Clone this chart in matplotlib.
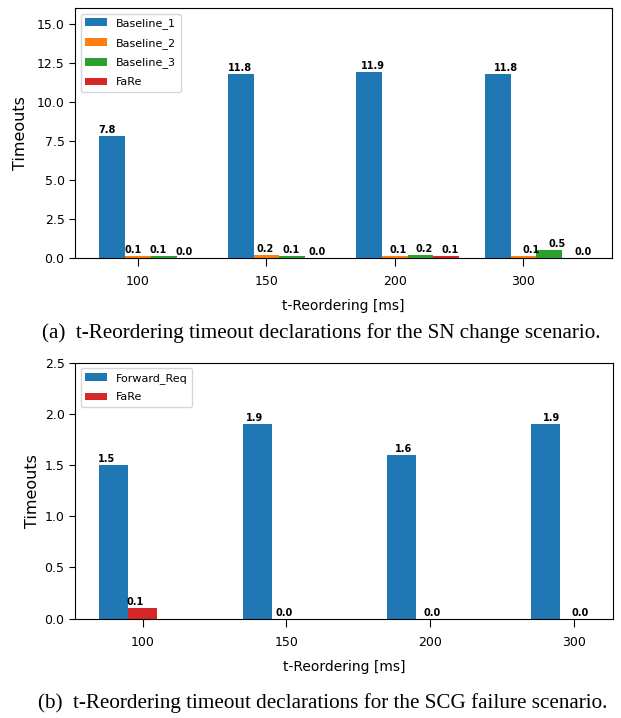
import numpy as np
import matplotlib.pyplot as plt

# t-Reordering values on the x axis
t_reordering = ['100', '150', '200', '300']

# SN change scenario
baseline_1 = [7.8, 11.8, 11.9, 11.8]
baseline_2 = [0.1, 0.2, 0.1, 0.1]
baseline_3 = [0.1, 0.1, 0.2, 0.5]
fare_sn = [0.0, 0.0, 0.1, 0.0]

# SCG failure scenario
forward_req = [1.5, 1.9, 1.6, 1.9]
fare_scg = [0.1, 0.0, 0.0, 0.0]

width = 0.2
x = np.arange(len(t_reordering))

plt.rcParams['font.family'] = 'DejaVu Sans'
plt.rcParams['xtick.labelsize'] = 9
plt.rcParams['ytick.labelsize'] = 9
plt.rcParams['xtick.major.size'] = 6
plt.rcParams['xtick.major.pad'] = 6.5
plt.rcParams['ytick.major.size'] = 4


def autolabel(ax, rects, drift):
    # value on top of each bar
    for i, rect in enumerate(rects):
        h = rect.get_height()
        ax.annotate('%.1f' % h,
                    xy=(rect.get_x() + rect.get_width() / 2, h),
                    xytext=((i - drift) * 4.4, 1), textcoords='offset pixels',
                    ha='center', va='bottom', fontsize=7, fontweight='bold')


def style(ax):
    ax.set_xticks(x)
    ax.set_xticklabels(t_reordering)
    ax.set_xlabel('t-Reordering [ms]', fontsize=10, labelpad=8)
    ax.set_ylabel('Timeouts', fontsize=11.5)
    ax.legend(loc='upper left', fontsize=8, labelspacing=0.8)


fig = plt.figure(figsize=(6.21, 7.18), dpi=100)

# --- (a) SN change ---
ax1 = fig.add_axes([0.1208, 0.6407, 0.8647, 0.3482])
r1 = ax1.bar(x - width, baseline_1, width, label='Baseline_1', color='C0')
r2 = ax1.bar(x, baseline_2, width, label='Baseline_2', color='C1')
r3 = ax1.bar(x + width, baseline_3, width, label='Baseline_3', color='C2')
r4 = ax1.bar(x + 2 * width, fare_sn, width, label='FaRe', color='C3')
for r in (r1, r2, r3, r4):
    autolabel(ax1, r, 1.2)
ax1.set_ylim(0, 16)
ax1.set_yticks(np.arange(0, 15.1, 2.5))
style(ax1)
ax1.yaxis.labelpad = 6

# --- (b) SCG failure ---
ax2 = fig.add_axes([0.1208, 0.1383, 0.8663, 0.3566])
q1 = ax2.bar(x - width, forward_req, width, label='Forward_Req', color='C0')
q2 = ax2.bar(x, fare_scg, width, label='FaRe', color='C3')
for r in (q1, q2):
    autolabel(ax2, r, 1.6)
ax2.set_ylim(0, 2.5)
style(ax2)
ax2.yaxis.labelpad = 3

# subfigure captions
cap_font = dict(family='Liberation Serif', fontsize=15.2, ha='center', va='center')
fig.text(0.517, 1 - 333 / 718,
         '(a)  t-Reordering timeout declarations for the SN change scenario.',
         **cap_font)
fig.text(0.519, 1 - 703 / 718,
         '(b)  t-Reordering timeout declarations for the SCG failure scenario.',
         **cap_font)

fig.savefig('out.png', dpi=100)
